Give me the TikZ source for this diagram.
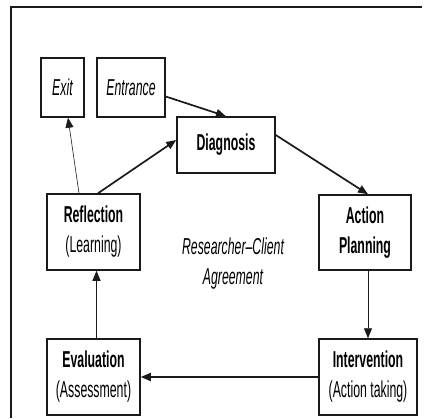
\documentclass[tikz,border=0pt]{standalone}
\usepackage{fontspec}
\setmainfont{Liberation Sans}[FakeStretch=0.535]
\usetikzlibrary{arrows.meta,positioning}
\definecolor{inkline}{HTML}{1A1A1A}

\begin{document}
\begin{tikzpicture}[
  x=1pt, y=-1pt,
  font=\fontsize{23}{30}\selectfont,
  stage/.style = {draw=inkline, line width=1.5pt, align=center, inner sep=0pt},
  gate/.style  = {stage, font=\fontsize{23}{30}\selectfont\itshape},
  flow/.style  = {-{Triangle[length=10pt, width=8pt]}, line width=1.7pt, draw=inkline},
  thin/.style  = {flow, line width=0.9pt},
  note/.style  = {font=\fontsize{23}{30}\selectfont\itshape, align=center},
]
\useasboundingbox (0,0) rectangle (426,418);

% ---------- frame ----------------------------------------------------------------------
\draw[line width=2.3pt, inkline] (11,418) -- (11,7) -- (422,7);

% ---------- entry / exit boxes ----------------------------------------------------------
\node[gate, minimum width=43pt, minimum height=59pt]  (exit) at (62.5,87.5) {Exit};
\node[gate, minimum width=68pt, minimum height=59pt]  (entr) at (131,87.5)  {Entrance};

% ---------- the cycle ---------------------------------------------------------------------
\node[stage, minimum width=98pt, minimum height=56pt] (diag) at (226,145)   {\textbf{Diagnosis}};
\node[stage, minimum width=92pt, minimum height=75pt] (plan) at (365,232.5) {\textbf{Action}\\\textbf{Planning}};
\node[stage, minimum width=98pt, minimum height=76pt] (intv) at (368,377)   {\textbf{Intervention}\\(Action taking)};
\node[stage, minimum width=93pt, minimum height=76pt] (eval) at (93.5,377)  {\textbf{Evaluation}\\(Assessment)};
\node[stage, minimum width=93pt, minimum height=76pt] (refl) at (93.5,232)  {\textbf{Reflection}\\(Learning)};

\node[note] (agree) at (233,264) {Researcher--Client\\Agreement};

% ---------- connectors --------------------------------------------------------------------
\draw[flow] ([yshift=-9pt]entr.east) -- (diag.north);
\draw[flow] ([xshift=4.5pt]refl.north) -- ([yshift=5pt]diag.west);
\draw[flow] ([yshift=10pt]diag.east) -- ([xshift=3pt]plan.north);
\draw[thin] (plan.south -| intv) -- (intv.north);
\draw[flow] (intv.west) -- (eval.east);
\draw[thin] ([xshift=3pt]eval.north) -- ([xshift=3pt]refl.south);
\draw[thin, line width=0.6pt] ([xshift=-14.5pt]refl.north) -- ([xshift=5.5pt]exit.south);

\end{tikzpicture}
\end{document}
